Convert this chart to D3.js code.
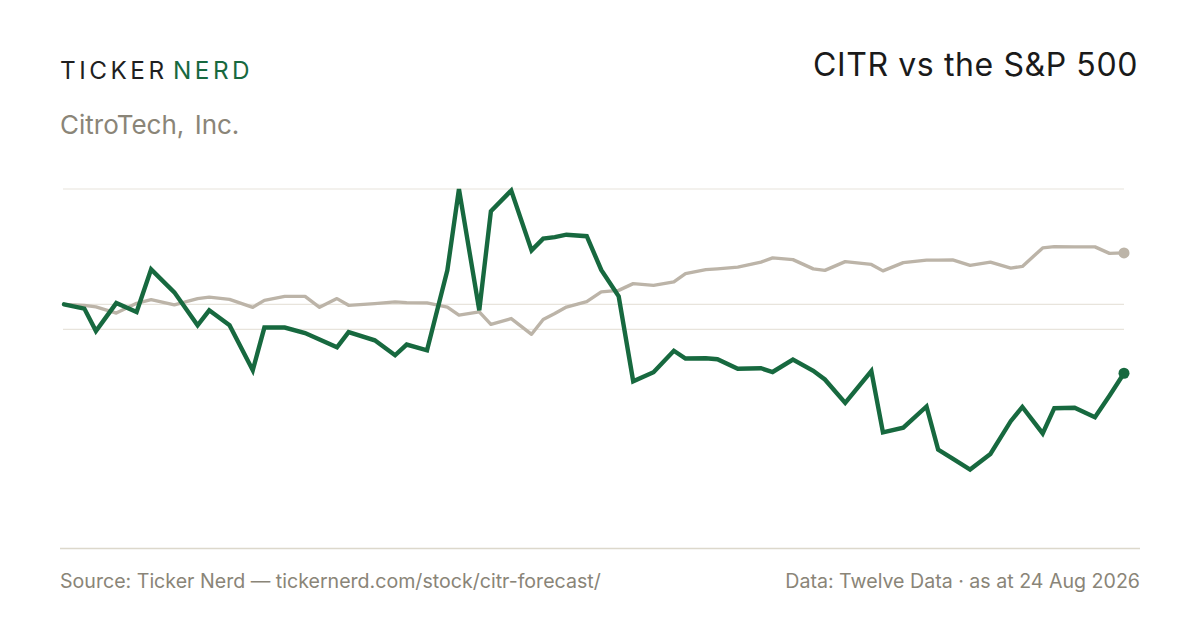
<!DOCTYPE html>
<html>
<head>
<meta charset="utf-8">
<script src="https://cdn.jsdelivr.net/npm/d3@7"></script>
<style>
  html, body { margin: 0; padding: 0; background: #ffffff; }
  svg { display: block; font-family: Inter, "Noto Sans", sans-serif; }
</style>
</head>
<body>
<svg id="chart" width="1200" height="630"></svg>
<script>
// ---- Data (percent change since start) ----
const dates = [
  "2025-08-24","2025-08-31","2025-09-04","2025-09-11","2025-09-18","2025-09-23","2025-10-01","2025-10-09",
  "2025-10-13","2025-10-20","2025-10-28","2025-11-01","2025-11-08","2025-11-15","2025-11-20","2025-11-26",
  "2025-11-30","2025-12-09","2025-12-16","2025-12-20","2025-12-27","2026-01-03","2026-01-07","2026-01-14",
  "2026-01-18","2026-01-25","2026-02-01","2026-02-05","2026-02-09","2026-02-13","2026-02-20","2026-02-25",
  "2026-03-03","2026-03-08","2026-03-15","2026-03-22","2026-03-26","2026-04-02","2026-04-06","2026-04-13",
  "2026-04-21","2026-04-25","2026-05-02","2026-05-09","2026-05-13","2026-05-20","2026-05-29","2026-06-02",
  "2026-06-09","2026-06-17","2026-06-21","2026-06-26","2026-07-02","2026-07-09","2026-07-16","2026-07-20",
  "2026-07-27","2026-07-31","2026-08-07","2026-08-14","2026-08-19","2026-08-24"
];
const citr = [
  0, -1.7, -10.7, 0.5, -3.1, 14.0, 4.8, -8.4,
  -2.4, -8.4, -26.4, -9.3, -9.3, -11.5, -14.1, -17.2,
  -11.1, -14.4, -20.4, -16.1, -18.4, 13.6, 46.2, -2.4,
  37.3, 45.6, 21.6, 26.3, 26.9, 27.9, 27.3, 13.8,
  3.2, -30.8, -27.2, -18.6, -21.7, -21.6, -22.0, -25.8,
  -25.6, -27.1, -22.1, -26.6, -30.1, -39.5, -26.7, -51.3,
  -49.4, -40.9, -58.2, -61.8, -66.2, -59.9, -46.8, -41.1,
  -51.7, -41.6, -41.4, -45.2, -36.6, -27.6
];
const spx = [
  0, -0.4, -1.0, -3.5, 0.4, 1.9, -0.2, 2.3,
  2.9, 2.0, -1.2, 1.6, 3.2, 3.2, -1.2, 2.3,
  -0.4, 0.3, 1.0, 0.7, 0.6, -1.1, -4.3, -3.0,
  -8.0, -5.7, -12.0, -6.1, -3.7, -1.1, 1.1, 5.0,
  5.6, 8.3, 7.6, 9.0, 12.3, 13.9, 14.2, 14.9,
  16.9, 18.6, 17.9, 14.2, 13.6, 17.1, 16.0, 13.4,
  16.7, 17.7, 17.7, 17.8, 15.6, 16.9, 14.5, 15.2,
  22.6, 23.1, 23.0, 23.0, 20.4, 20.6
];
const gridValues = [46.2, 0, -10];
const yDomain = [-97.6, 46.2];

const brandLeft = "TICKER";
const brandRight = "NERD";
const company = "CitroTech, Inc.";
const title = "CITR vs the S&P 500";
const sourceText = "Source: Ticker Nerd \u2014 tickernerd.com/stock/citr-forecast/";
const dataText = "Data: Twelve Data \u00b7 as at 24 Aug 2026";

// ---- Drawing ----
const svg = d3.select("#chart");
const parse = d3.timeParse("%Y-%m-%d");
const dd = dates.map(parse);

const x = d3.scaleTime().domain(d3.extent(dd)).range([64, 1124]);
const y = d3.scaleLinear().domain(yDomain).range([548, 189]);

const GREEN = "#17693f";
const GRAY = "#bcb4a8";
const MUTED = "#8a8578";

// header
const brand = svg.append("text")
  .attr("x", 60).attr("y", 78.5)
  .attr("font-size", 24.3).attr("letter-spacing", 3.5)
  .attr("font-weight", 400);
brand.append("tspan").attr("fill", "#1f1f1f").text(brandLeft);
brand.append("tspan").attr("fill", GREEN).attr("dx", 5.5).text(brandRight);

svg.append("text")
  .attr("x", 60).attr("y", 134)
  .attr("font-size", 26).attr("fill", MUTED)
  .attr("word-spacing", 3)
  .text(company);

svg.append("text")
  .attr("x", 1138).attr("y", 76)
  .attr("text-anchor", "end")
  .attr("font-size", 32).attr("fill", "#1a1a1a")
  .attr("letter-spacing", 0.6)
  .text(title);

// gridlines
svg.append("g").selectAll("line")
  .data(gridValues).join("line")
  .attr("x1", 63).attr("x2", 1124)
  .attr("y1", d => y(d)).attr("y2", d => y(d))
  .attr("stroke", "#e8e4dc").attr("stroke-width", 1.2);

// lines
const line = d3.line().x((d, i) => x(dd[i])).y(d => y(d));

svg.append("path").datum(spx)
  .attr("d", line).attr("fill", "none")
  .attr("stroke", GRAY).attr("stroke-width", 3.4)
  .attr("stroke-linejoin", "round").attr("stroke-linecap", "round");

svg.append("path").datum(citr)
  .attr("d", line).attr("fill", "none")
  .attr("stroke", GREEN).attr("stroke-width", 4.4)
  .attr("stroke-linejoin", "miter").attr("stroke-linecap", "round");

const last = dd.length - 1;
svg.append("circle").attr("cx", x(dd[last])).attr("cy", y(spx[last]))
  .attr("r", 5.5).attr("fill", GRAY);
svg.append("circle").attr("cx", x(dd[last])).attr("cy", y(citr[last]))
  .attr("r", 5.5).attr("fill", GREEN);

// footer
svg.append("line")
  .attr("x1", 60).attr("x2", 1140).attr("y1", 548.5).attr("y2", 548.5)
  .attr("stroke", "#dcd8cc").attr("stroke-width", 1.5);

svg.append("text")
  .attr("x", 60).attr("y", 588)
  .attr("font-size", 19.6).attr("fill", MUTED)
  .text(sourceText);

svg.append("text")
  .attr("x", 1140).attr("y", 588)
  .attr("text-anchor", "end")
  .attr("font-size", 19.6).attr("fill", MUTED)
  .text(dataText);
</script>
</body>
</html>
